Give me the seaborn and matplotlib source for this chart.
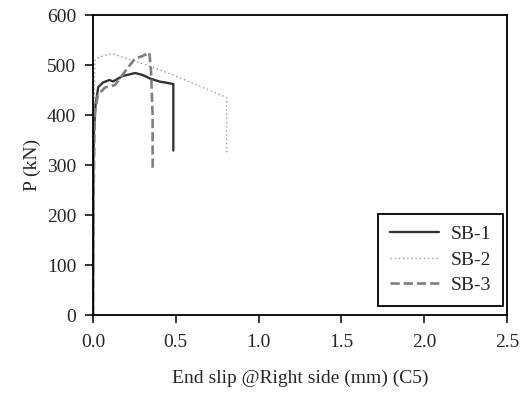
import matplotlib
matplotlib.use("Agg")
import matplotlib.pyplot as plt
import seaborn as sns
import pandas as pd

sb1_x = [0.0, 0.002, 0.005, 0.015, 0.032, 0.06, 0.10, 0.12, 0.18, 0.254, 0.30, 0.344, 0.40, 0.485, 0.485]
sb1_y = [0, 300, 363, 420, 456, 465, 470, 467, 478, 484, 480, 473, 467, 462, 329]

sb2_x = [0.0, 0.003, 0.008, 0.012, 0.018, 0.06, 0.113, 0.2, 0.324, 0.5, 0.65, 0.807, 0.807]
sb2_y = [0, 300, 450, 510, 513, 518, 523, 513, 500, 478, 457, 435, 323]

sb3_x = [0.0, 0.004, 0.008, 0.012, 0.03, 0.072, 0.133, 0.2, 0.254, 0.30, 0.34, 0.35, 0.36, 0.36]
sb3_y = [0, 250, 350, 410, 440, 455, 460, 490, 513, 518, 525, 490, 400, 293]

labels = ["SB-1", "SB-2", "SB-3"]
x_ticks = [0.0, 0.5, 1.0, 1.5, 2.0, 2.5]
y_ticks = [0, 100, 200, 300, 400, 500, 600]

sns.set_style("white")
plt.rcParams["font.family"] = ["Liberation Serif", "DejaVu Serif"]

fig = plt.figure(figsize=(5.27, 3.95), dpi=100)
ax = fig.add_axes([0.1765, 0.2025, 0.962 - 0.1765, 0.962 - 0.2025])

styles = [
    dict(color="#333333", linestyle="-", linewidth=1.7),
    dict(color="#999999", linestyle=(0, (1, 2)), linewidth=1.0),
    dict(color="#7f7f7f", linestyle=(0, (3.5, 1.5)), linewidth=1.9),
]
for xs, ys, lab, st in zip([sb1_x, sb2_x, sb3_x], [sb1_y, sb2_y, sb3_y], labels, styles):
    df = pd.DataFrame({"x": xs, "y": ys})
    sns.lineplot(data=df, x="x", y="y", ax=ax, sort=False, estimator=None, label=lab, **st)

ax.set_xlim(0, 2.5)
ax.set_ylim(0, 600)
ax.set_xticks(x_ticks)
ax.set_xticklabels([f"{v:.1f}" for v in x_ticks])
ax.set_yticks(y_ticks)
ax.set_xlabel("End slip @Right side (mm) (C5)", fontsize=14, labelpad=13)
ax.set_ylabel("P (kN)", fontsize=14, labelpad=4)
for s in ax.spines.values():
    s.set_color("black")
    s.set_linewidth(1.3)
ax.tick_params(axis="both", which="major", direction="out", length=6, width=1.1,
               labelsize=14, color="black", bottom=True, left=True, top=False, right=False)
ax.tick_params(axis="x", pad=8)
ax.tick_params(axis="y", pad=6)

leg = ax.legend(loc="lower right", fontsize=14, frameon=True, fancybox=False,
                edgecolor="black", handlelength=2.5, handletextpad=0.6,
                borderpad=0.62, labelspacing=0.4, borderaxespad=0,
                bbox_to_anchor=(0.99, 0.03))
leg.get_frame().set_linewidth(1.3)
leg.get_frame().set_alpha(1)

fig.savefig("out.png", dpi=100)
